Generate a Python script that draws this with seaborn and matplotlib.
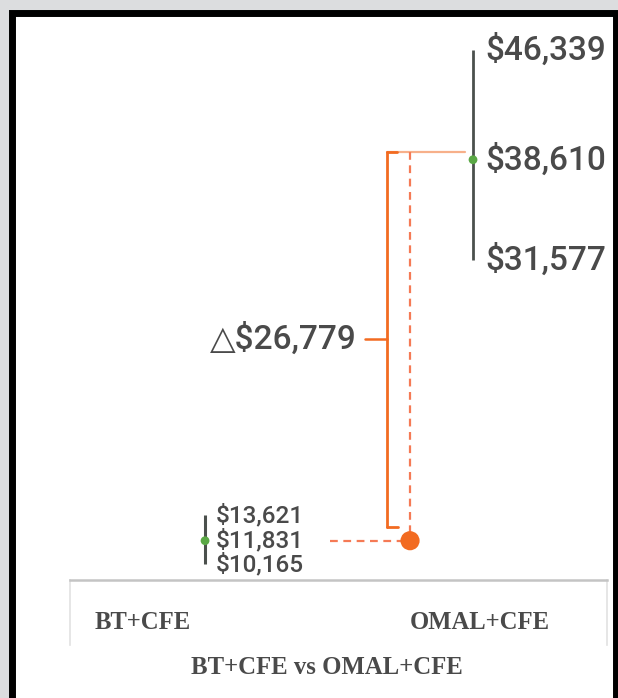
import matplotlib
matplotlib.use("Agg")
import matplotlib.pyplot as plt
from matplotlib.patches import Rectangle
import pandas as pd
import seaborn as sns

# Данные
categories = ["BT+CFE", "OMAL+CFE"]
mean_cost = [11831, 38610]
low_cost = [10165, 31577]
high_cost = [13621, 46339]
delta_label = "△$26,779"
title = "BT+CFE vs OMAL+CFE"

sns.set_style("white")
num_font = ["Roboto", "DejaVu Sans"]
cat_font = ["Liberation Serif", "DejaVu Serif"]

text_col = "#4a4a4a"
dark = "#4b504d"
green = "#5aa845"
orange = "#f26b21"
light_orange = "#f7b08a"

fig = plt.figure(figsize=(6.18, 6.98), dpi=100, facecolor="#dcdddf")
W, H = 618, 698

# рамка
frame = Rectangle((11.5 / W, -0.02), 604.5 / W, (H - 12.5) / H + 0.02,
                  transform=fig.transFigure, facecolor="white",
                  edgecolor="black", linewidth=5.0, zorder=-10)
fig.patches.append(frame)

# основная область
ax = fig.add_axes([70 / W, (H - 580) / H, 537 / W, 560 / H])
ax.set_facecolor("none")
ax.set_xlim(-0.504, 1.5)
ax.set_ylim(9070, 48430)
for s in ax.spines.values():
    s.set_visible(False)
ax.set_xticks([])
ax.set_yticks([])

x_pos = [0, 1]

# диапазоны
ax.vlines(x_pos[0], low_cost[0], high_cost[0], color=dark, lw=2.2, zorder=2)
ax.vlines(x_pos[1], low_cost[1], high_cost[1], color=dark, lw=2.0, zorder=2)

df = pd.DataFrame({"x": x_pos, "cost": mean_cost, "cat": categories})
sns.scatterplot(data=df, x="x", y="cost", color=green, s=40, edgecolor="none",
                ax=ax, zorder=3, legend=False)

# подписи значений
big = dict(fontsize=24, fontweight="medium", color=text_col, family=num_font,
           va="center", ha="left")
ax.text(1.045, high_cost[1], f"${high_cost[1]:,}", **big)
ax.text(1.045, mean_cost[1], f"${mean_cost[1]:,}", **big)
ax.text(1.045, low_cost[1], f"${low_cost[1]:,}", **big)

small = dict(fontsize=17.5, fontweight="medium", color=text_col, family=num_font,
             va="center", ha="left")
ax.text(0.04, high_cost[0], f"${high_cost[0]:,}", **small)
ax.text(0.04, mean_cost[0], f"${mean_cost[0]:,}", **small)
ax.text(0.04, low_cost[0], f"${low_cost[0]:,}", **small)

# скобка разницы
x_br = 0.68
x_dot = 0.765
br_top = mean_cost[1] + 560
br_bot = mean_cost[0] + 990
ax.plot([x_br, x_br], [br_top, br_bot], color=orange, lw=2.0, zorder=2)
ax.plot([x_br, 0.97], [br_top, br_top], color=light_orange, lw=1.6, zorder=1)
ax.plot([x_br, 0.715], [br_top, br_top], color=orange, lw=2.0, zorder=2)
ax.plot([x_br, 0.72], [br_bot, br_bot], color=orange, lw=2.0, zorder=2)

# пунктиры
ax.plot([x_dot, x_dot], [br_top, mean_cost[0]], color="#f57a55", lw=1.6,
        dashes=(3.5, 2.5), zorder=1)
ax.plot([0.466, x_dot], [mean_cost[0], mean_cost[0]], color="#f57a55", lw=1.6,
        dashes=(3.5, 2.5), zorder=1)
sns.scatterplot(x=[x_dot], y=[mean_cost[0]], color=orange, s=190,
                edgecolor="none", ax=ax, zorder=4, legend=False)

mid = (br_top + br_bot) / 2
ax.plot([0.597, x_br], [mid, mid], color=orange, lw=1.8, zorder=2)
ax.text(0.567, mid, delta_label, fontsize=24, fontweight="medium",
        color=text_col, family=num_font, va="center", ha="right")

# нижняя панель с категориями
ax_box = fig.add_axes([70 / W, (H - 645) / H, 537 / W, 65 / H])
ax_box.set_facecolor("none")
ax_box.set_xlim(0, 1)
ax_box.set_ylim(0, 1)
ax_box.set_xticks([])
ax_box.set_yticks([])
ax_box.spines["bottom"].set_visible(False)
ax_box.spines["top"].set_color("#c4c4c4")
ax_box.spines["top"].set_linewidth(1.8)
ax_box.spines["left"].set_color("#e2e2e2")
ax_box.spines["right"].set_color("#e2e2e2")
ax_box.spines["left"].set_linewidth(1.2)
ax_box.spines["right"].set_linewidth(1.2)

ax_box.text(0.136, 0.35, categories[0], fontsize=17.7, fontweight="bold",
            color=text_col, family=cat_font, ha="center", va="center")
ax_box.text(0.763, 0.35, categories[1], fontsize=17.7, fontweight="bold",
            color=text_col, family=cat_font, ha="center", va="center")

fig.text(327 / W, (H - 667) / H, title, fontsize=17.8, fontweight="bold",
         color=text_col, family=cat_font, ha="center", va="center")

fig.savefig("out.png", dpi=100, facecolor=fig.get_facecolor())
